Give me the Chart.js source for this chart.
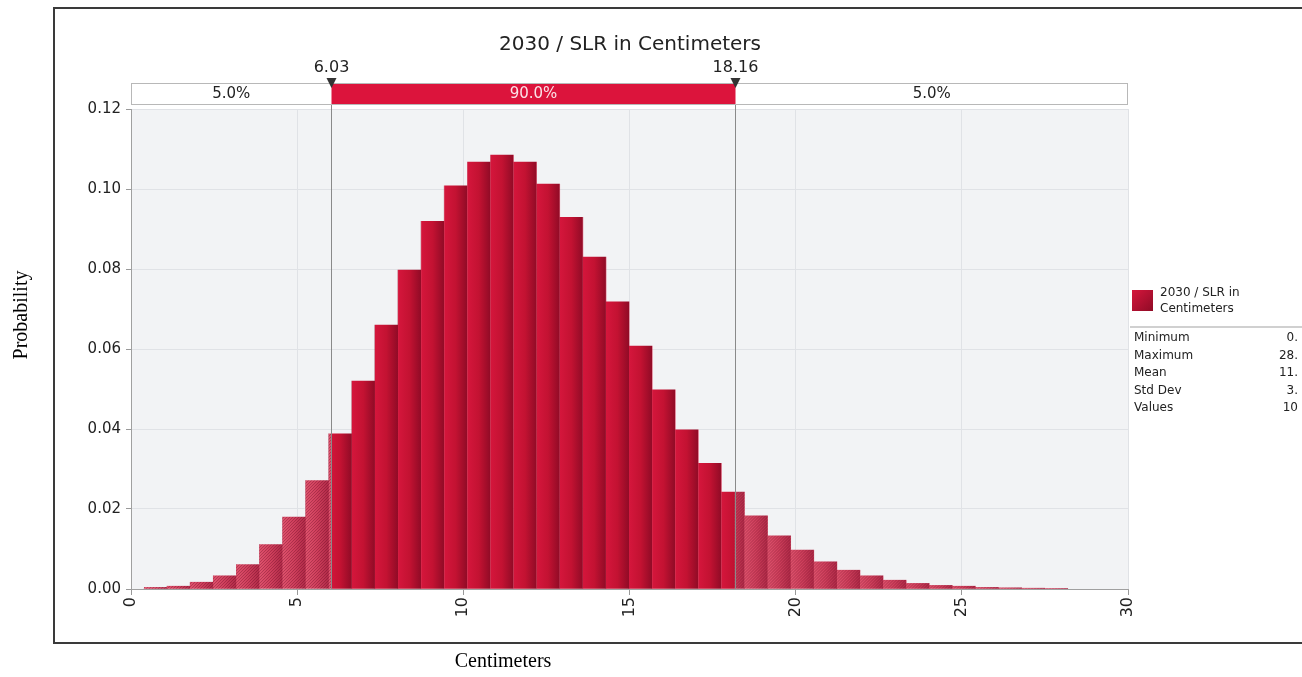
<!DOCTYPE html>
<html>
<head>
<meta charset="utf-8">
<script src="https://cdn.jsdelivr.net/npm/chart.js@4.4.1/dist/chart.umd.min.js"></script>
<style>
  html, body { margin: 0; background: #fff; }
  #wrap { position: relative; width: 1302px; height: 677px; }
</style>
</head>
<body>
<div id="wrap"><canvas id="histogram" width="1302" height="677"></canvas></div>
<script>
// histogram bins (centre of each bin, cm) and the probability of each bin
const binCenters = [
  0.738, 1.433, 2.128, 2.823, 3.518, 4.213, 4.908, 5.603, 6.298, 6.993,
  7.688, 8.383, 9.078, 9.773, 10.468, 11.163, 11.858, 12.553, 13.248, 13.943,
  14.638, 15.333, 16.028, 16.723, 17.418, 18.113, 18.808, 19.503, 20.198, 20.893,
  21.588, 22.283, 22.978, 23.673, 24.368, 25.063, 25.758, 26.453, 27.148, 27.843
];
const probability = [
  0.0004, 0.0007, 0.0017, 0.0033, 0.0061, 0.0111, 0.0180, 0.0271, 0.0388, 0.0520,
  0.0660, 0.0797, 0.0919, 0.1008, 0.1067, 0.1085, 0.1067, 0.1012, 0.0929, 0.0830,
  0.0718, 0.0607, 0.0498, 0.0398, 0.0314, 0.0242, 0.0183, 0.0133, 0.0097, 0.0068,
  0.0047, 0.0033, 0.0022, 0.0014, 0.0009, 0.0007, 0.0004, 0.0003, 0.0002, 0.0001
];
const xTicks = [0, 5, 10, 15, 20, 25, 30];
const yTicks = [0, 0.02, 0.04, 0.06, 0.08, 0.10, 0.12];

// 5% / 90% / 5% delimiters
const lowerCut = 6.03;
const upperCut = 18.16;
const bandLabels = ["5.0%", "90.0%", "5.0%"];

const chartTitle = "2030 / SLR in Centimeters";
const seriesName = ["2030 / SLR in", "Centimeters"];
const statNames = ["Minimum", "Maximum", "Mean", "Std Dev", "Values"];
const statValues = ["0.", "28.", "11.", "3.", "10"];

const FONT = "'DejaVu Sans', Verdana, sans-serif";
const SERIF = "'Liberation Serif', 'Times New Roman', serif";

// builds the bar fill: gradient columns in the 90% band, hatched pink in the tails
const texturePlugin = {
  id: "texture",
  afterLayout(chart) {
    const { top, bottom, left, right } = chart.chartArea;
    const xs = chart.scales.x;
    const half = (binCenters[1] - binCenters[0]) / 2;
    const tex = document.createElement("canvas");
    tex.width = chart.width;
    tex.height = chart.height;
    const g = tex.getContext("2d");

    const columns = (stops) => {
      binCenters.forEach((c) => {
        const l = xs.getPixelForValue(c - half);
        const r = xs.getPixelForValue(c + half);
        const gr = g.createLinearGradient(l, 0, r, 0);
        stops.forEach(([o, col]) => gr.addColorStop(o, col));
        g.fillStyle = gr;
        g.fillRect(l, top, r - l, bottom - top);
      });
    };

    columns([[0, "#d5163c"], [0.5, "#c31232"], [1, "#900b26"]]);

    const lo = xs.getPixelForValue(lowerCut);
    const hi = xs.getPixelForValue(upperCut);
    [[left - 30, lo], [hi, right + 30]].forEach(([a, b]) => {
      g.save();
      g.beginPath();
      g.rect(a, top, b - a, bottom - top);
      g.clip();
      columns([[0, "#df526d"], [0.5, "#cf3f5c"], [1, "#b02a48"]]);
      g.strokeStyle = "rgba(80, 0, 20, 0.28)";
      g.lineWidth = 1;
      const h = bottom - top;
      g.beginPath();
      for (let d = a - h; d < b; d += 3) {
        g.moveTo(d, bottom);
        g.lineTo(d + h, top);
      }
      g.stroke();
      g.restore();
    });

    chart.$texture = chart.ctx.createPattern(tex, "no-repeat");
  }
};

// plot background + outer frame
const backdropPlugin = {
  id: "backdrop",
  beforeDraw(chart) {
    const { ctx, chartArea: a } = chart;
    ctx.save();
    ctx.fillStyle = "#f2f3f5";
    ctx.fillRect(a.left, a.top, a.right - a.left, a.bottom - a.top);
    ctx.strokeStyle = "#3a3a3a";
    ctx.lineWidth = 2;
    ctx.strokeRect(54, 8, 1300, 635);
    ctx.restore();
  }
};

// title, percentile band, delimiters, legend/stats panel and axis titles
const decorPlugin = {
  id: "decor",
  afterDatasetsDraw(chart) {
    const { ctx, chartArea: a } = chart;
    const xs = chart.scales.x;
    const lo = Math.round(xs.getPixelForValue(lowerCut)) + 0.5;
    const hi = Math.round(xs.getPixelForValue(upperCut)) + 0.5;
    const bandTop = 83, bandBottom = 104;

    ctx.save();
    // delimiter lines
    ctx.strokeStyle = "#8a8a8a";
    ctx.lineWidth = 1;
    ctx.beginPath();
    ctx.moveTo(lo, bandBottom); ctx.lineTo(lo, a.bottom);
    ctx.moveTo(hi, bandBottom); ctx.lineTo(hi, a.bottom);
    ctx.stroke();

    // band
    ctx.fillStyle = "#ffffff";
    ctx.fillRect(a.left, bandTop, a.right - a.left, bandBottom - bandTop);
    ctx.fillStyle = "#dc143c";
    ctx.fillRect(lo, bandTop, hi - lo, bandBottom - bandTop);
    ctx.strokeStyle = "#b8b8b8";
    ctx.strokeRect(a.left + 0.5, bandTop + 0.5, a.right - a.left - 1, bandBottom - bandTop);

    ctx.font = "15px " + FONT;
    ctx.textAlign = "center";
    ctx.textBaseline = "middle";
    const mid = (bandTop + bandBottom) / 2 + 1;
    ctx.fillStyle = "#222";
    ctx.fillText(bandLabels[0], (a.left + lo) / 2, mid);
    ctx.fillText(bandLabels[2], (hi + a.right) / 2, mid);
    ctx.fillStyle = "#fbe3e8";
    ctx.fillText(bandLabels[1], (lo + hi) / 2, mid);

    // markers
    ctx.fillStyle = "#333";
    [lo, hi].forEach((x) => {
      ctx.beginPath();
      ctx.moveTo(x - 5, 78);
      ctx.lineTo(x + 5, 78);
      ctx.lineTo(x, 88);
      ctx.closePath();
      ctx.fill();
    });
    ctx.fillStyle = "#222";
    ctx.font = "16px " + FONT;
    ctx.fillText(lowerCut.toFixed(2), lo, 68);
    ctx.fillText(upperCut.toFixed(2), hi, 68);

    // title
    ctx.font = "20px " + FONT;
    ctx.fillText(chartTitle, 630, 45);

    // legend swatch
    const sg = ctx.createLinearGradient(1132, 290, 1153, 311);
    sg.addColorStop(0, "#d5163c");
    sg.addColorStop(1, "#8f0b26");
    ctx.fillStyle = sg;
    ctx.fillRect(1132, 290, 21, 21);
    ctx.fillStyle = "#222";
    ctx.font = "12px " + FONT;
    ctx.textAlign = "left";
    ctx.fillText(seriesName[0], 1160, 293);
    ctx.fillText(seriesName[1], 1160, 309);

    ctx.strokeStyle = "#d0d0d0";
    ctx.lineWidth = 2;
    ctx.beginPath();
    ctx.moveTo(1130, 327); ctx.lineTo(1302, 327);
    ctx.stroke();

    statNames.forEach((name, i) => {
      const y = 338 + i * 17.5;
      ctx.textAlign = "left";
      ctx.fillText(name, 1134, y);
      ctx.textAlign = "right";
      ctx.fillText(statValues[i], 1298, y);
    });

    // axis titles
    ctx.fillStyle = "#000";
    ctx.font = "20px " + SERIF;
    ctx.textAlign = "center";
    ctx.fillText("Centimeters", 503, 662);
    ctx.translate(22, 315);
    ctx.rotate(-Math.PI / 2);
    ctx.fillText("Probability", 0, 0);
    ctx.restore();
  }
};

new Chart(document.getElementById("histogram"), {
  type: "bar",
  data: {
    datasets: [{
      label: seriesName.join(" "),
      data: binCenters.map((x, i) => ({ x, y: probability[i] })),
      backgroundColor: (c) => c.chart.$texture || "#c31232",
      borderWidth: 0,
      barPercentage: 1,
      categoryPercentage: 1
    }]
  },
  options: {
    responsive: false,
    animation: false,
    layout: { padding: { top: 109, right: 174, left: 0, bottom: 0 } },
    plugins: { legend: { display: false }, tooltip: { enabled: false }, title: { display: false } },
    scales: {
      x: {
        type: "linear",
        min: 0,
        max: 30,
        offset: false,
        afterBuildTicks: (s) => { s.ticks = xTicks.map((v) => ({ value: v })); },
        afterFit: (s) => { s.height = 677 - 589; },
        grid: { offset: false, color: "#e0e2e6", tickColor: "#999", tickLength: 6 },
        border: { color: "#a0a0a0" },
        ticks: { minRotation: 90, maxRotation: 90, padding: 2, color: "#222", font: { family: FONT, size: 16 } }
      },
      y: {
        min: 0,
        max: 0.12,
        afterBuildTicks: (s) => { s.ticks = yTicks.map((v) => ({ value: v })); },
        afterFit: (s) => { s.width = 131; },
        grid: { color: "#e0e2e6", tickColor: "#999", tickLength: 5 },
        border: { color: "#a0a0a0" },
        ticks: { padding: 5, color: "#222", font: { family: FONT, size: 15 }, callback: (v) => v.toFixed(2) }
      }
    }
  },
  plugins: [texturePlugin, backdropPlugin, decorPlugin]
});
</script>
</body>
</html>
